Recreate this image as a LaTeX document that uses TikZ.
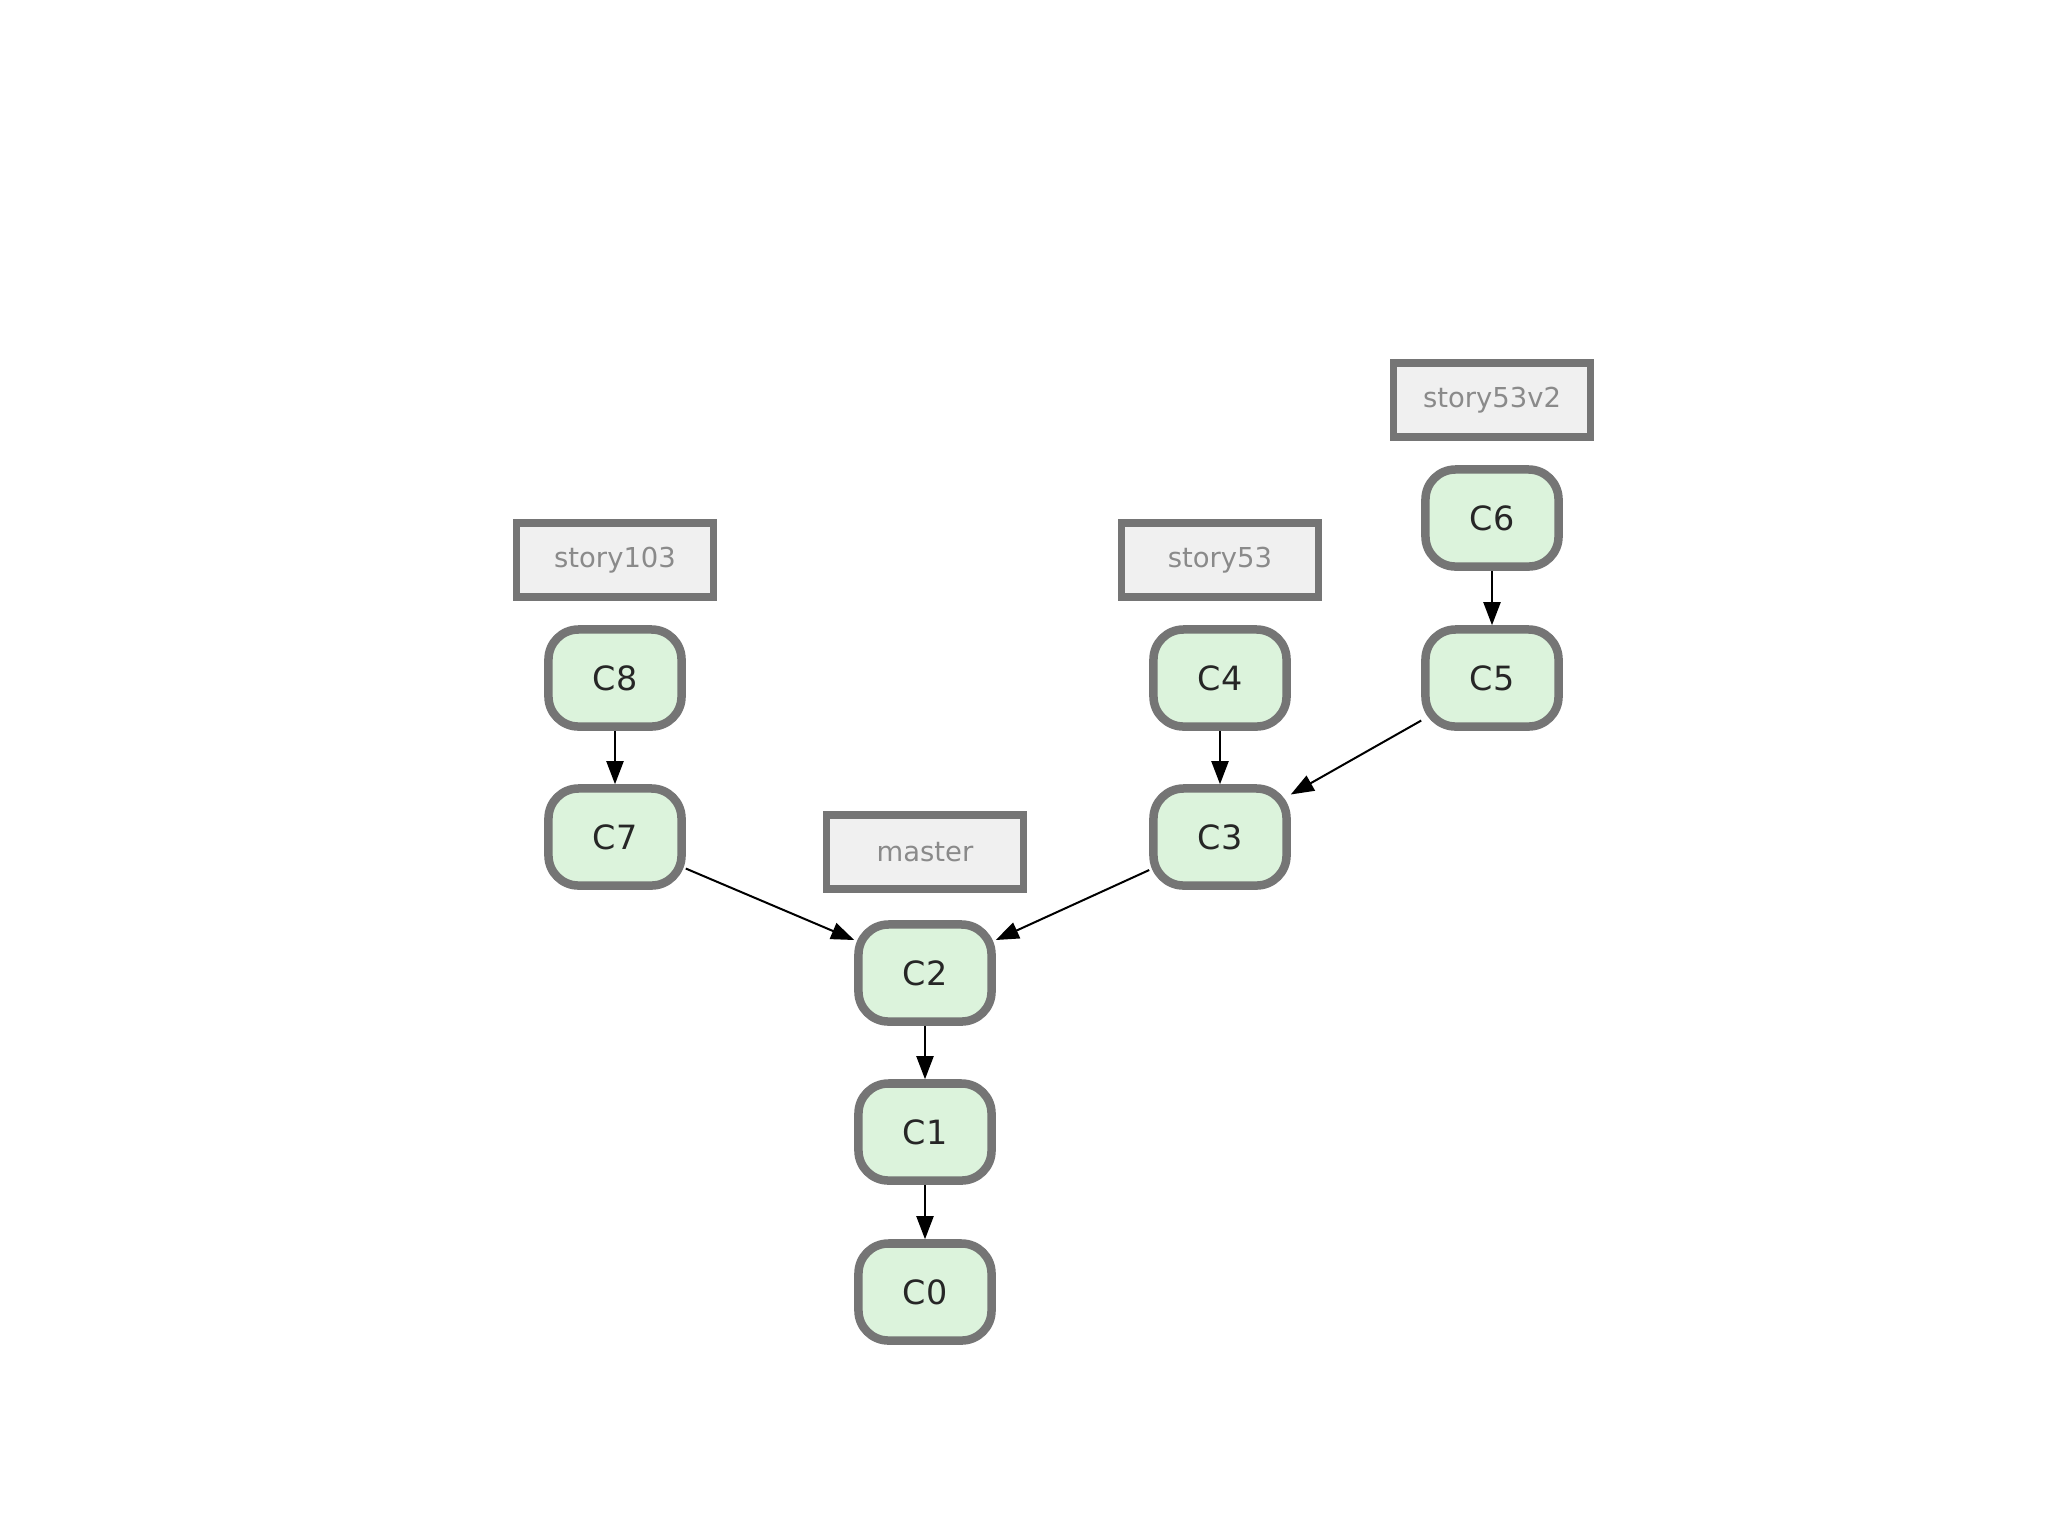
\documentclass[tikz,border=0pt]{standalone}
\usepackage{fontspec}
\setmainfont{DejaVu Sans}
\usetikzlibrary{arrows.meta}
\definecolor{cborder}{HTML}{757575}
\definecolor{cfill}{HTML}{DCF3DC}
\definecolor{lfill}{HTML}{F0F0F0}
\definecolor{ltext}{HTML}{8A8A8A}
\tikzset{
  commit/.style={draw=cborder, fill=cfill, line width=0.085cm, rounded corners=0.3cm,
    minimum width=1.33cm, minimum height=0.97cm, inner sep=0pt, font=\fontsize{9.5pt}{11pt}\selectfont, text=black!85},
  branch/.style={draw=cborder, fill=lfill, line width=0.075cm,
    minimum width=1.97cm, minimum height=0.74cm, inner sep=0pt, font=\fontsize{7.8pt}{9pt}\selectfont, text=ltext},
  link/.style={draw=black, line width=0.02cm, -{Triangle[length=0.23cm,width=0.17cm]}}
}
\begin{document}
\begin{tikzpicture}[x=0.01cm,y=-0.01cm]
\useasboundingbox[fill=white] (0,0) rectangle (2048,1535);
% commits
\node[commit] (C8) at (615,678) {C8};
\node[commit] (C7) at (615,837) {C7};
\node[commit] (C2) at (925,973) {C2};
\node[commit] (C1) at (925,1132) {C1};
\node[commit] (C0) at (925,1292) {C0};
\node[commit] (C4) at (1220,678) {C4};
\node[commit] (C3) at (1220,837) {C3};
\node[commit] (C6) at (1492,518) {C6};
\node[commit] (C5) at (1492,678) {C5};
% branches
\node[branch] (b103) at (615,560) {story103};
\node[branch] (b53) at (1220,560) {story53};
\node[branch] (b53v2) at (1492,400) {story53v2};
\node[branch] (bmaster) at (925,852) {master};
% links
\draw[link] (C8) -- (C7);
\draw[link] (C2) -- (C1);
\draw[link] (C1) -- (C0);
\draw[link] (C4) -- (C3);
\draw[link] (C6) -- (C5);
\draw[link] (C7.-24) -- (C2.155);
\draw[link] (C3.-155) -- (C2.25);
\draw[link] (C5.-149) -- (C3.31);
\end{tikzpicture}
\end{document}
